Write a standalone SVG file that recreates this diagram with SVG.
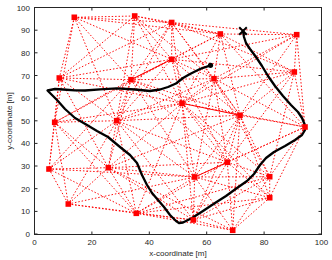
<svg xmlns="http://www.w3.org/2000/svg" width="332" height="260" viewBox="0 0 332 260">
<style>
.e{stroke:#ff0000;stroke-width:0.95;stroke-dasharray:1.5 1.9;fill:none}
.s{stroke:#ff0000;stroke-width:1;fill:none}
.n{fill:#ff0000}
.traj{stroke:#000;stroke-width:2.3;fill:none;stroke-linejoin:round;stroke-linecap:round}
.ax{stroke:#262626;stroke-width:1;fill:none}
.tl{font-family:"Liberation Sans",Arial,sans-serif;font-size:8px;fill:#262626}
</style>
<rect x="0" y="0" width="332" height="260" fill="#fff"/>
<g id="axes">
<rect class="ax" x="34.5" y="7.5" width="287" height="227"/>
<path class="ax" d="M34.5,234.5v-3M91.9,234.5v-3M149.3,234.5v-3M206.7,234.5v-3M264.1,234.5v-3M321.5,234.5v-3M34.5,7.5v3M91.9,7.5v3M149.3,7.5v3M206.7,7.5v3M264.1,7.5v3M321.5,7.5v3M34.5,234h3M34.5,211.4h3M34.5,188.7h3M34.5,166h3M34.5,143.4h3M34.5,120.8h3M34.5,98.1h3M34.5,75.5h3M34.5,52.8h3M34.5,30.2h3M34.5,7.5h3M321.5,234h-3M321.5,211.4h-3M321.5,188.7h-3M321.5,166h-3M321.5,143.4h-3M321.5,120.8h-3M321.5,98.1h-3M321.5,75.5h-3M321.5,52.8h-3M321.5,30.2h-3M321.5,7.5h-3"/>
<g class="tl" text-anchor="middle">
<text x="34.5" y="245">0</text><text x="91.9" y="245">20</text><text x="149.3" y="245">40</text><text x="206.7" y="245">60</text><text x="264.1" y="245">80</text><text x="321.5" y="245">100</text>
</g>
<g class="tl" text-anchor="end">
<text x="30" y="237">0</text><text x="30" y="214.4">10</text><text x="30" y="191.7">20</text><text x="30" y="169">30</text><text x="30" y="146.4">40</text><text x="30" y="123.8">50</text><text x="30" y="101.1">60</text><text x="30" y="78.5">70</text><text x="30" y="55.8">80</text><text x="30" y="33.2">90</text><text x="30" y="10.5">100</text>
</g>
<text class="tl" x="178" y="255.5" text-anchor="middle">x-coordinate [m]</text>
<text class="tl" x="0" y="0" text-anchor="middle" transform="translate(12,121) rotate(-90)">y-coordinate [m]</text>
</g>
<g id="connectors">
<line class="e" x1="74.3" y1="17.3" x2="134.7" y2="16"/>
<line class="e" x1="74.3" y1="17.3" x2="171.7" y2="22.5"/>
<line class="e" x1="74.3" y1="17.3" x2="220.3" y2="34"/>
<line class="e" x1="74.3" y1="17.3" x2="59.3" y2="78"/>
<line class="e" x1="74.3" y1="17.3" x2="131" y2="79.7"/>
<line class="e" x1="74.3" y1="17.3" x2="171.7" y2="59.3"/>
<line class="e" x1="74.3" y1="17.3" x2="116.7" y2="120.7"/>
<line class="e" x1="74.3" y1="17.3" x2="54.7" y2="122.3"/>
<line class="e" x1="134.7" y1="16" x2="171.7" y2="22.5"/>
<line class="e" x1="134.7" y1="16" x2="220.3" y2="34"/>
<line class="e" x1="134.7" y1="16" x2="59.3" y2="78"/>
<line class="e" x1="134.7" y1="16" x2="131" y2="79.7"/>
<line class="e" x1="134.7" y1="16" x2="171.7" y2="59.3"/>
<line class="e" x1="134.7" y1="16" x2="214" y2="78.7"/>
<line class="e" x1="134.7" y1="16" x2="182" y2="103.3"/>
<line class="e" x1="134.7" y1="16" x2="116.7" y2="120.7"/>
<line class="e" x1="171.7" y1="22.5" x2="220.3" y2="34"/>
<line class="e" x1="171.7" y1="22.5" x2="296.7" y2="34.7"/>
<line class="e" x1="171.7" y1="22.5" x2="59.3" y2="78"/>
<line class="e" x1="171.7" y1="22.5" x2="131" y2="79.7"/>
<line class="e" x1="171.7" y1="22.5" x2="171.7" y2="59.3"/>
<line class="e" x1="171.7" y1="22.5" x2="214" y2="78.7"/>
<line class="e" x1="171.7" y1="22.5" x2="294.3" y2="72"/>
<line class="e" x1="171.7" y1="22.5" x2="182" y2="103.3"/>
<line class="e" x1="171.7" y1="22.5" x2="116.7" y2="120.7"/>
<line class="e" x1="171.7" y1="22.5" x2="240" y2="115.3"/>
<line class="e" x1="220.3" y1="34" x2="296.7" y2="34.7"/>
<line class="e" x1="220.3" y1="34" x2="131" y2="79.7"/>
<line class="e" x1="220.3" y1="34" x2="171.7" y2="59.3"/>
<line class="e" x1="220.3" y1="34" x2="214" y2="78.7"/>
<line class="e" x1="220.3" y1="34" x2="294.3" y2="72"/>
<line class="e" x1="220.3" y1="34" x2="182" y2="103.3"/>
<line class="e" x1="220.3" y1="34" x2="240" y2="115.3"/>
<line class="e" x1="220.3" y1="34" x2="305" y2="127"/>
<line class="e" x1="296.7" y1="34.7" x2="171.7" y2="59.3"/>
<line class="e" x1="296.7" y1="34.7" x2="214" y2="78.7"/>
<line class="e" x1="296.7" y1="34.7" x2="294.3" y2="72"/>
<line class="e" x1="296.7" y1="34.7" x2="182" y2="103.3"/>
<line class="e" x1="296.7" y1="34.7" x2="240" y2="115.3"/>
<line class="e" x1="296.7" y1="34.7" x2="305" y2="127"/>
<line class="e" x1="59.3" y1="78" x2="131" y2="79.7"/>
<line class="e" x1="59.3" y1="78" x2="171.7" y2="59.3"/>
<line class="e" x1="59.3" y1="78" x2="182" y2="103.3"/>
<line class="e" x1="59.3" y1="78" x2="116.7" y2="120.7"/>
<line class="e" x1="59.3" y1="78" x2="54.7" y2="122.3"/>
<line class="e" x1="59.3" y1="78" x2="49" y2="169"/>
<line class="e" x1="59.3" y1="78" x2="108.3" y2="167.7"/>
<line class="s" x1="131" y1="79.7" x2="171.7" y2="59.3"/>
<line class="e" x1="131" y1="79.7" x2="214" y2="78.7"/>
<line class="e" x1="131" y1="79.7" x2="182" y2="103.3"/>
<line class="e" x1="131" y1="79.7" x2="116.7" y2="120.7"/>
<line class="e" x1="131" y1="79.7" x2="54.7" y2="122.3"/>
<line class="e" x1="131" y1="79.7" x2="240" y2="115.3"/>
<line class="e" x1="131" y1="79.7" x2="49" y2="169"/>
<line class="e" x1="131" y1="79.7" x2="108.3" y2="167.7"/>
<line class="e" x1="131" y1="79.7" x2="227.3" y2="162.3"/>
<line class="e" x1="131" y1="79.7" x2="194.7" y2="177"/>
<line class="e" x1="171.7" y1="59.3" x2="214" y2="78.7"/>
<line class="e" x1="171.7" y1="59.3" x2="294.3" y2="72"/>
<line class="e" x1="171.7" y1="59.3" x2="182" y2="103.3"/>
<line class="e" x1="171.7" y1="59.3" x2="116.7" y2="120.7"/>
<line class="e" x1="171.7" y1="59.3" x2="54.7" y2="122.3"/>
<line class="e" x1="171.7" y1="59.3" x2="240" y2="115.3"/>
<line class="e" x1="171.7" y1="59.3" x2="227.3" y2="162.3"/>
<line class="e" x1="214" y1="78.7" x2="294.3" y2="72"/>
<line class="e" x1="214" y1="78.7" x2="182" y2="103.3"/>
<line class="e" x1="214" y1="78.7" x2="116.7" y2="120.7"/>
<line class="e" x1="214" y1="78.7" x2="240" y2="115.3"/>
<line class="e" x1="214" y1="78.7" x2="305" y2="127"/>
<line class="e" x1="214" y1="78.7" x2="227.3" y2="162.3"/>
<line class="e" x1="214" y1="78.7" x2="194.7" y2="177"/>
<line class="e" x1="214" y1="78.7" x2="269.7" y2="176.7"/>
<line class="e" x1="294.3" y1="72" x2="182" y2="103.3"/>
<line class="e" x1="294.3" y1="72" x2="240" y2="115.3"/>
<line class="e" x1="294.3" y1="72" x2="305" y2="127"/>
<line class="e" x1="294.3" y1="72" x2="227.3" y2="162.3"/>
<line class="e" x1="294.3" y1="72" x2="269.7" y2="176.7"/>
<line class="e" x1="182" y1="103.3" x2="116.7" y2="120.7"/>
<line class="e" x1="182" y1="103.3" x2="54.7" y2="122.3"/>
<line class="s" x1="182" y1="103.3" x2="240" y2="115.3"/>
<line class="e" x1="182" y1="103.3" x2="305" y2="127"/>
<line class="e" x1="182" y1="103.3" x2="108.3" y2="167.7"/>
<line class="e" x1="182" y1="103.3" x2="136.3" y2="213.3"/>
<line class="e" x1="182" y1="103.3" x2="227.3" y2="162.3"/>
<line class="e" x1="182" y1="103.3" x2="194.7" y2="177"/>
<line class="e" x1="182" y1="103.3" x2="269.7" y2="176.7"/>
<line class="e" x1="182" y1="103.3" x2="269.7" y2="197.7"/>
<line class="e" x1="182" y1="103.3" x2="193.3" y2="220"/>
<line class="e" x1="116.7" y1="120.7" x2="54.7" y2="122.3"/>
<line class="e" x1="116.7" y1="120.7" x2="240" y2="115.3"/>
<line class="e" x1="116.7" y1="120.7" x2="49" y2="169"/>
<line class="e" x1="116.7" y1="120.7" x2="108.3" y2="167.7"/>
<line class="e" x1="116.7" y1="120.7" x2="68.3" y2="204"/>
<line class="e" x1="116.7" y1="120.7" x2="136.3" y2="213.3"/>
<line class="e" x1="116.7" y1="120.7" x2="227.3" y2="162.3"/>
<line class="e" x1="116.7" y1="120.7" x2="194.7" y2="177"/>
<line class="e" x1="116.7" y1="120.7" x2="193.3" y2="220"/>
<line class="e" x1="54.7" y1="122.3" x2="49" y2="169"/>
<line class="e" x1="54.7" y1="122.3" x2="108.3" y2="167.7"/>
<line class="e" x1="54.7" y1="122.3" x2="68.3" y2="204"/>
<line class="e" x1="54.7" y1="122.3" x2="136.3" y2="213.3"/>
<line class="e" x1="240" y1="115.3" x2="305" y2="127"/>
<line class="e" x1="240" y1="115.3" x2="108.3" y2="167.7"/>
<line class="e" x1="240" y1="115.3" x2="227.3" y2="162.3"/>
<line class="e" x1="240" y1="115.3" x2="194.7" y2="177"/>
<line class="e" x1="240" y1="115.3" x2="269.7" y2="176.7"/>
<line class="e" x1="240" y1="115.3" x2="269.7" y2="197.7"/>
<line class="e" x1="240" y1="115.3" x2="193.3" y2="220"/>
<line class="e" x1="240" y1="115.3" x2="232.7" y2="230.3"/>
<line class="e" x1="305" y1="127" x2="227.3" y2="162.3"/>
<line class="e" x1="305" y1="127" x2="194.7" y2="177"/>
<line class="e" x1="305" y1="127" x2="269.7" y2="176.7"/>
<line class="e" x1="305" y1="127" x2="269.7" y2="197.7"/>
<line class="e" x1="49" y1="169" x2="108.3" y2="167.7"/>
<line class="e" x1="49" y1="169" x2="68.3" y2="204"/>
<line class="e" x1="49" y1="169" x2="136.3" y2="213.3"/>
<line class="e" x1="49" y1="169" x2="194.7" y2="177"/>
<line class="e" x1="108.3" y1="167.7" x2="68.3" y2="204"/>
<line class="e" x1="108.3" y1="167.7" x2="136.3" y2="213.3"/>
<line class="e" x1="108.3" y1="167.7" x2="227.3" y2="162.3"/>
<line class="e" x1="108.3" y1="167.7" x2="194.7" y2="177"/>
<line class="e" x1="108.3" y1="167.7" x2="193.3" y2="220"/>
<line class="e" x1="108.3" y1="167.7" x2="232.7" y2="230.3"/>
<line class="e" x1="68.3" y1="204" x2="136.3" y2="213.3"/>
<line class="e" x1="68.3" y1="204" x2="194.7" y2="177"/>
<line class="e" x1="68.3" y1="204" x2="193.3" y2="220"/>
<line class="e" x1="136.3" y1="213.3" x2="227.3" y2="162.3"/>
<line class="e" x1="136.3" y1="213.3" x2="194.7" y2="177"/>
<line class="e" x1="136.3" y1="213.3" x2="269.7" y2="176.7"/>
<line class="e" x1="136.3" y1="213.3" x2="269.7" y2="197.7"/>
<line class="e" x1="136.3" y1="213.3" x2="193.3" y2="220"/>
<line class="e" x1="136.3" y1="213.3" x2="232.7" y2="230.3"/>
<line class="s" x1="227.3" y1="162.3" x2="194.7" y2="177"/>
<line class="e" x1="227.3" y1="162.3" x2="269.7" y2="176.7"/>
<line class="e" x1="227.3" y1="162.3" x2="269.7" y2="197.7"/>
<line class="e" x1="227.3" y1="162.3" x2="193.3" y2="220"/>
<line class="e" x1="227.3" y1="162.3" x2="232.7" y2="230.3"/>
<line class="e" x1="194.7" y1="177" x2="269.7" y2="176.7"/>
<line class="e" x1="194.7" y1="177" x2="269.7" y2="197.7"/>
<line class="e" x1="194.7" y1="177" x2="193.3" y2="220"/>
<line class="e" x1="194.7" y1="177" x2="232.7" y2="230.3"/>
<line class="e" x1="269.7" y1="176.7" x2="269.7" y2="197.7"/>
<line class="e" x1="269.7" y1="176.7" x2="193.3" y2="220"/>
<line class="e" x1="269.7" y1="176.7" x2="232.7" y2="230.3"/>
<line class="e" x1="269.7" y1="197.7" x2="193.3" y2="220"/>
<line class="e" x1="269.7" y1="197.7" x2="232.7" y2="230.3"/>
<line class="e" x1="193.3" y1="220" x2="232.7" y2="230.3"/>
</g>
<g id="trajectory">
<path class="traj" d="M243,31 L244,37 L246,43 L250,49 L256,57 L262,66 L268,76 L275,86 L283,96 L291,105 L298,112 L302,118 L304.5,124 L305,130 L302,135 L295,140 L285,146 L274,152 L266,158 L260,165 L254,174 L247,181 L237,188 L226,196 L215,203 L203,211 L192,218 L183,222.5 L179,223 L176,221 L170,215 L164,207 L158,200 L152,193 L147,185 L142,175 L137,163 L130,155 L120,147 L108,137 L97,131 L87,125 L75,118 L65,109 L57,100 L50,93 L47.5,90.5 L55,89 L63,89.5 L75,90.3 L85,90.5 L100,89.3 L117,88.3 L135,89.5 L150,91 L160,89.5 L168,87 L176,83.5 L183,78 L190,74 L200,69 L210.5,65.3"/>
<path d="M239.2,27.2L246.8,34.8M246.8,27.2L239.2,34.8" stroke="#000" stroke-width="2" fill="none"/>
<circle cx="210.5" cy="65.3" r="2.6" fill="#000"/>
</g>
<g id="n1"><rect class="n" x="71.5" y="14.5" width="5.6" height="5.6"/></g>
<g id="n2"><rect class="n" x="131.9" y="13.2" width="5.6" height="5.6"/></g>
<g id="n3"><rect class="n" x="168.9" y="19.7" width="5.6" height="5.6"/></g>
<g id="n4"><rect class="n" x="217.5" y="31.2" width="5.6" height="5.6"/></g>
<g id="n5"><rect class="n" x="293.9" y="31.9" width="5.6" height="5.6"/></g>
<g id="n6"><rect class="n" x="56.5" y="75.2" width="5.6" height="5.6"/></g>
<g id="n7"><rect class="n" x="128.2" y="76.9" width="5.6" height="5.6"/></g>
<g id="n8"><rect class="n" x="168.9" y="56.5" width="5.6" height="5.6"/></g>
<g id="n9"><rect class="n" x="211.2" y="75.9" width="5.6" height="5.6"/></g>
<g id="n10"><rect class="n" x="291.5" y="69.2" width="5.6" height="5.6"/></g>
<g id="n11"><rect class="n" x="179.2" y="100.5" width="5.6" height="5.6"/></g>
<g id="n12"><rect class="n" x="113.9" y="117.9" width="5.6" height="5.6"/></g>
<g id="n13"><rect class="n" x="51.9" y="119.5" width="5.6" height="5.6"/></g>
<g id="n14"><rect class="n" x="237.2" y="112.5" width="5.6" height="5.6"/></g>
<g id="n15"><rect class="n" x="302.2" y="124.2" width="5.6" height="5.6"/></g>
<g id="n16"><rect class="n" x="46.2" y="166.2" width="5.6" height="5.6"/></g>
<g id="n17"><rect class="n" x="105.5" y="164.9" width="5.6" height="5.6"/></g>
<g id="n18"><rect class="n" x="65.5" y="201.2" width="5.6" height="5.6"/></g>
<g id="n19"><rect class="n" x="133.5" y="210.5" width="5.6" height="5.6"/></g>
<g id="n20"><rect class="n" x="224.5" y="159.5" width="5.6" height="5.6"/></g>
<g id="n21"><rect class="n" x="191.9" y="174.2" width="5.6" height="5.6"/></g>
<g id="n22"><rect class="n" x="266.9" y="173.9" width="5.6" height="5.6"/></g>
<g id="n23"><rect class="n" x="266.9" y="194.9" width="5.6" height="5.6"/></g>
<g id="n24"><rect class="n" x="190.5" y="217.2" width="5.6" height="5.6"/></g>
<g id="n25"><rect class="n" x="229.9" y="227.5" width="5.6" height="5.6"/></g>
</svg>
